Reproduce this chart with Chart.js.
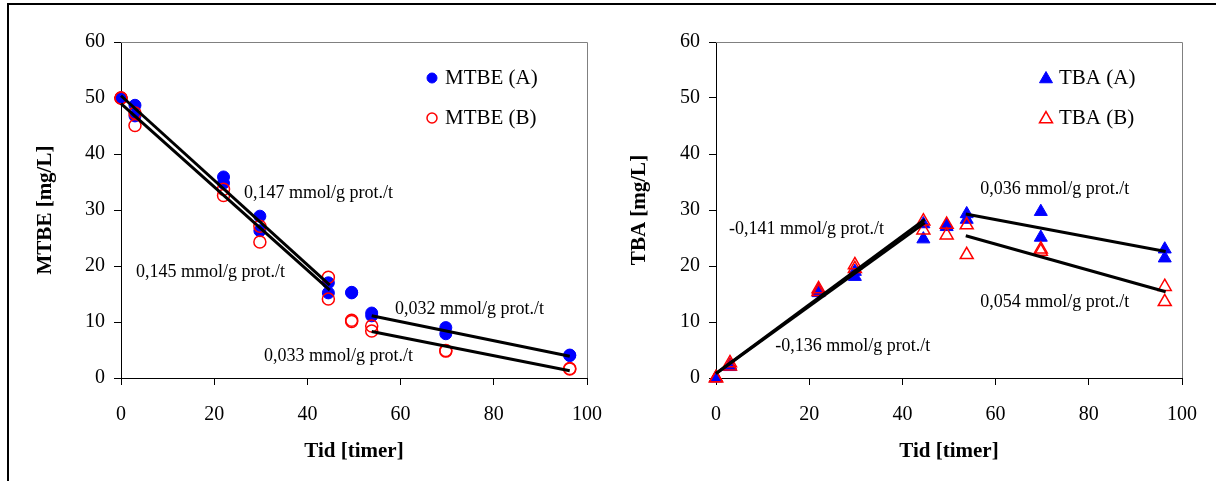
<!DOCTYPE html>
<html><head><meta charset="utf-8">
<script src="https://cdn.jsdelivr.net/npm/chart.js@4.4.1/dist/chart.umd.min.js"></script>
<style>
html,body{margin:0;padding:0;background:#fff;width:1216px;height:481px;overflow:hidden;}
#frame{position:absolute;left:7px;top:3px;width:1300px;height:600px;border:2px solid #000;box-sizing:border-box;}
canvas{position:absolute;top:0;}
#c1{left:0px} #c2{left:600px}
</style></head><body>
<div id="frame"></div>
<canvas id="c1" width="621" height="481"></canvas>
<canvas id="c2" width="616" height="481"></canvas>
<script>
// ---- data ----
const times = [0, 3, 22, 29.8, 44.5, 49.5, 53.8, 69.7, 96.3];

const mtbeA1 = [50.0, 48.7, 35.9, 28.9, 17.0, 15.3, 11.6, 9.0, 4.1];
const mtbeA2 = [50.0, 46.8, 34.8, 26.3, 15.2, 15.2, 11.1, 7.9, 4.0];
const mtbeB1 = [50.0, 47.3, 33.7, 27.1, 18.0, 10.3, 9.3, 4.9, 1.7];
const mtbeB2 = [50.0, 45.1, 32.6, 24.3, 14.1, 10.1, 8.4, 4.8, 1.6];

const tbaA1 = [0, 2.0, 15.2, 18.1, 24.8, 27.3, 29.3, 29.7, 23.0];
const tbaA2 = [0, 2.3, 15.6, 19.0, 27.5, 27.0, 28.3, 25.1, 21.4];
const tbaB1 = [0, 2.7, 15.9, 20.2, 28.0, 27.4, 27.3, 23.0, 16.3];
const tbaB2 = [0, 2.1, 15.4, 19.5, 26.4, 25.5, 22.0, 22.6, 13.6];

// trend line end points [time, value]
const mtbeFitA1 = [[0, 50.4], [44.8, 16.6]];
const mtbeFitB1 = [[0, 49.0], [44.8, 15.7]];
const mtbeFitA2 = [[53.8, 11.1], [96.3, 3.9]];
const mtbeFitB2 = [[53.8, 8.3], [96.3, 1.3]];
const tbaFitA1 = [[0, 0.8], [44.8, 27.7]];
const tbaFitB1 = [[0, 0.8], [44.8, 28.3]];
const tbaFitA2 = [[53.6, 29.3], [96.5, 22.6]];
const tbaFitB2 = [[53.6, 25.4], [96.5, 15.4]];

const xTicks = [0, 20, 40, 60, 80, 100];
const yTicks = [0, 10, 20, 30, 40, 50, 60];

const mtbeNotes = [
  {text: '0,147 mmol/g prot./t', t: 26.4, v: 33.0},
  {text: '0,145 mmol/g prot./t', t: 3.2, v: 18.9},
  {text: '0,032 mmol/g prot./t', t: 58.8, v: 12.3},
  {text: '0,033 mmol/g prot./t', t: 30.7, v: 3.9}
];
const tbaNotes = [
  {text: '-0,141 mmol/g prot./t', t: 2.8, v: 26.6},
  {text: '-0,136 mmol/g prot./t', t: 12.7, v: 5.7},
  {text: '0,036 mmol/g prot./t', t: 56.7, v: 33.7},
  {text: '0,054 mmol/g prot./t', t: 56.7, v: 13.6}
];

// ---- helpers ----
const SERIF = '"Liberation Serif", "Times New Roman", Times, serif';
Chart.defaults.font.family = SERIF;
Chart.defaults.color = '#000';

const pts = (vals) => vals.map((v, i) => ({x: times[i], y: v}));
const fitPts = (arr) => arr.map(p => ({x: p[0], y: p[1]}));

function scatterSet(label, data, style, filled, color, radius, order) {
  return {
    type: 'scatter', label, data, order,
    pointStyle: style, pointRadius: radius, pointHoverRadius: radius,
    backgroundColor: filled ? color : 'rgba(0,0,0,0)',
    borderColor: color, borderWidth: filled ? 1 : 1.5,
    showLine: false, clip: false
  };
}
function fitSet(arr) {
  return {
    type: 'line', label: 'fit', data: fitPts(arr), order: 0,
    borderColor: '#000', borderWidth: 3, pointRadius: 0, fill: false,
    tension: 0, clip: false
  };
}

const areaFrame = {
  id: 'areaFrame',
  beforeDatasetsDraw(chart) {
    const {ctx, chartArea: a} = chart;
    ctx.save();
    ctx.strokeStyle = '#808080';
    ctx.lineWidth = 1;
    ctx.beginPath();
    ctx.moveTo(a.left, a.top + 0.5);
    ctx.lineTo(a.right + 0.5, a.top + 0.5);
    ctx.lineTo(a.right + 0.5, a.bottom);
    ctx.stroke();
    ctx.restore();
  }
};

const notesPlugin = {
  id: 'notes',
  afterDatasetsDraw(chart, args, opts) {
    const {ctx, scales} = chart;
    ctx.save();
    ctx.font = '18px ' + SERIF;
    ctx.fillStyle = '#000';
    ctx.textAlign = 'left';
    ctx.textBaseline = 'middle';
    (opts.items || []).forEach(n => {
      ctx.fillText(n.text, scales.x.getPixelForValue(n.t), scales.y.getPixelForValue(n.v));
    });
    ctx.restore();
  }
};

function drawMarker(ctx, style, filled, color, x, y, r) {
  ctx.save();
  ctx.beginPath();
  if (style === 'circle') {
    ctx.arc(x, y, r, 0, Math.PI * 2);
  } else {
    const w = r * Math.sqrt(3) / 2;
    ctx.moveTo(x, y - r);
    ctx.lineTo(x + w, y + r / 2);
    ctx.lineTo(x - w, y + r / 2);
    ctx.closePath();
  }
  if (filled) { ctx.fillStyle = color; ctx.fill(); }
  ctx.strokeStyle = color;
  ctx.lineWidth = filled ? 1 : 1.5;
  ctx.stroke();
  ctx.restore();
}

const legendPlugin = {
  id: 'ownLegend',
  afterDraw(chart, args, opts) {
    const {ctx, chartArea: a} = chart;
    ctx.save();
    ctx.font = '21px ' + SERIF;
    ctx.fillStyle = '#000';
    ctx.textAlign = 'left';
    ctx.textBaseline = 'middle';
    (opts.items || []).forEach((it, i) => {
      const y = a.top + opts.dy + i * opts.rowGap;
      const mx = a.left + opts.dx;
      drawMarker(ctx, it.style, it.filled, it.color, mx, y + (it.style === 'triangle' ? 1 : 0), it.r);
      ctx.fillText(it.label, mx + opts.textGap, y);
    });
    ctx.restore();
  }
};

function makeChart(id, cfg) {
  return new Chart(document.getElementById(id), {
    data: {datasets: cfg.datasets},
    options: {
      responsive: false, animation: false,
      events: [],
      layout: {padding: {left: 0, right: cfg.rightPad, top: 42, bottom: 0}},
      plugins: {
        legend: {display: false}, tooltip: {enabled: false},
        notes: {items: cfg.notes},
        ownLegend: cfg.legend
      },
      scales: {
        x: {
          type: 'linear', min: 0, max: 100,
          afterBuildTicks: (s) => { s.ticks = xTicks.map(v => ({value: v})); },
          ticks: {color: '#000', font: {size: 20}, padding: 18, maxRotation: 0},
          grid: {drawOnChartArea: false, color: '#000', tickLength: 7},
          border: {color: '#000', width: 1},
          title: {display: true, text: 'Tid [timer]', color: '#000',
                  font: {size: 21, weight: 'bold'}, padding: {bottom: 17}},
          afterFit: (s) => { s.height = 103; }
        },
        y: {
          type: 'linear', min: 0, max: 60,
          afterBuildTicks: (s) => { s.ticks = yTicks.map(v => ({value: v})); },
          ticks: {color: '#000', font: {size: 20}, padding: 9},
          grid: {drawOnChartArea: false, color: '#000', tickLength: 7},
          border: {color: '#000', width: 1},
          title: {display: true, text: cfg.yTitle, color: '#000',
                  font: {size: 21, weight: 'bold'}, padding: {top: cfg.yTitlePad}},
          afterFit: (s) => { s.width = cfg.yWidth; }
        }
      }
    },
    plugins: [areaFrame, notesPlugin, legendPlugin]
  });
}

makeChart('c1', {
  yTitle: 'MTBE [mg/L]', yWidth: 121, yTitlePad: 33, rightPad: 34,
  notes: mtbeNotes,
  legend: {dx: 311, dy: 36, rowGap: 40, textGap: 13, items: [
    {label: 'MTBE (A)', style: 'circle', filled: true, color: '#0000ff', r: 5},
    {label: 'MTBE (B)', style: 'circle', filled: false, color: '#ff0000', r: 5}
  ]},
  datasets: [
    scatterSet('MTBE (A)', pts(mtbeA1), 'circle', true, '#0000ff', 6, 3),
    scatterSet('MTBE (A)', pts(mtbeA2), 'circle', true, '#0000ff', 6, 3),
    scatterSet('MTBE (B)', pts(mtbeB1), 'circle', false, '#ff0000', 6, 2),
    scatterSet('MTBE (B)', pts(mtbeB2), 'circle', false, '#ff0000', 6, 2),
    fitSet(mtbeFitA1), fitSet(mtbeFitB1), fitSet(mtbeFitA2), fitSet(mtbeFitB2)
  ]
});

makeChart('c2', {
  yTitle: 'TBA [mg/L]', yWidth: 116, yTitlePad: 27, rightPad: 34,
  notes: tbaNotes,
  legend: {dx: 330, dy: 36, rowGap: 40, textGap: 13, items: [
    {label: 'TBA (A)', style: 'triangle', filled: true, color: '#0000ff', r: 7.5},
    {label: 'TBA (B)', style: 'triangle', filled: false, color: '#ff0000', r: 7.5}
  ]},
  datasets: [
    scatterSet('TBA (A)', pts(tbaA1), 'triangle', true, '#0000ff', 7.5, 3),
    scatterSet('TBA (A)', pts(tbaA2), 'triangle', true, '#0000ff', 7.5, 3),
    scatterSet('TBA (B)', pts(tbaB1), 'triangle', false, '#ff0000', 7.5, 2),
    scatterSet('TBA (B)', pts(tbaB2), 'triangle', false, '#ff0000', 7.5, 2),
    fitSet(tbaFitA1), fitSet(tbaFitB1), fitSet(tbaFitA2), fitSet(tbaFitB2)
  ]
});
</script>
</body></html>
